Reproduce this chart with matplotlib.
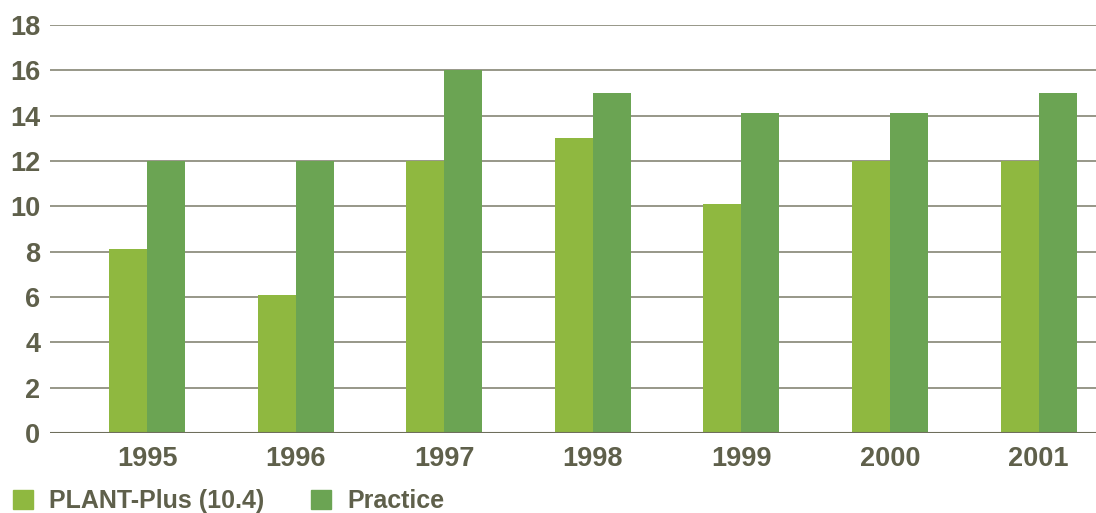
import numpy as np
import matplotlib.pyplot as plt
from matplotlib.patches import Patch

# data
years = ["1995", "1996", "1997", "1998", "1999", "2000", "2001"]
plant_plus = [8.1, 6.1, 12.0, 13.0, 10.1, 12.0, 12.0]
practice = [12.0, 12.0, 16.0, 15.0, 14.1, 14.1, 15.0]
series_names = ["PLANT-Plus (10.4)", "Practice"]

light_green = "#8fb840"
dark_green = "#6ba453"
text_col = "#5f604b"
grid_col = "#8f8f7f"

plt.rcParams['font.family'] = ['Liberation Sans', 'DejaVu Sans']

fig = plt.figure(figsize=(10.96, 5.13), dpi=100)
ax = fig.add_axes([50 / 1096, 80 / 513, 1046 / 1096, 408 / 513])

x = np.arange(len(years))
w = 0.256
ax.bar(x - w / 2, plant_plus, width=w, color=light_green, zorder=3)
ax.bar(x + w / 2, practice, width=w, color=dark_green, zorder=3)

ax.set_ylim(0, 18)
ax.set_xlim(-0.653, 6.386)
ax.set_yticks(range(0, 19, 2))
ax.set_xticks(x)
ax.set_xticklabels(years)

ax.grid(axis='y', color=grid_col, linewidth=1.3, zorder=0)
ax.axhline(0, color="#6e6e5c", linewidth=1.5, zorder=4)
for s in ax.spines.values():
    s.set_visible(False)
ax.tick_params(axis='both', length=0, colors=text_col)
ax.tick_params(axis='y', pad=7, labelsize=19.5)
ax.tick_params(axis='x', pad=9, labelsize=19.5)
for lab in ax.get_xticklabels() + ax.get_yticklabels():
    lab.set_fontweight('bold')

handles = [Patch(color=light_green), Patch(color=dark_green)]
leg = fig.legend(handles, series_names, loc='lower left', bbox_to_anchor=(10 / 1096, -0.005),
                 ncol=2, frameon=False, handlelength=0.82, handleheight=0.82,
                 handletextpad=0.65, columnspacing=1.85, borderpad=0.1, borderaxespad=0,
                 prop={'weight': 'bold', 'size': 18})
for t in leg.get_texts():
    t.set_color(text_col)

fig.savefig("out.png", dpi=100)
